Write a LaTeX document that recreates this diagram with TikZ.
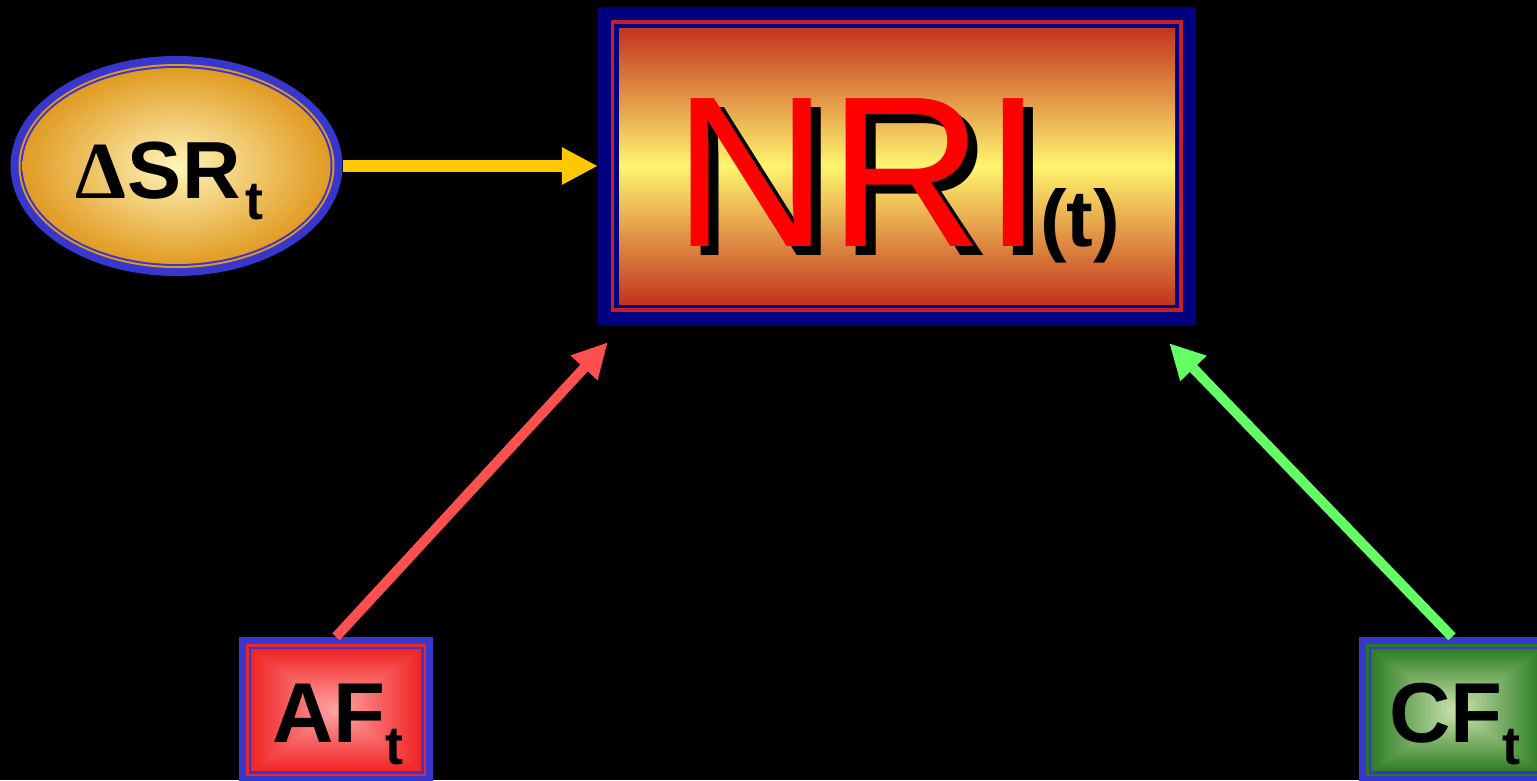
\documentclass[tikz,border=0pt]{standalone}
\usepackage{fontspec}
\setmainfont{Liberation Sans}
\newfontfamily\greekserif{Liberation Serif}
\usetikzlibrary{arrows.meta,shapes.geometric,calc}
\pgfdeclarelayer{back}
\pgfsetlayers{back,main}
\definecolor{bord}{RGB}{55,55,205}
\definecolor{navyb}{RGB}{0,0,128}
\definecolor{ylw}{RGB}{255,200,0}
\definecolor{redarr}{RGB}{255,80,80}
\definecolor{grnarr}{RGB}{100,255,100}
\definecolor{orgin}{RGB}{255,245,185}
\definecolor{orgout}{RGB}{225,155,35}
\definecolor{orgring}{RGB}{225,150,30}
\definecolor{nritop}{RGB}{195,52,30}
\definecolor{nrimid}{RGB}{255,245,110}
\definecolor{nriline}{RGB}{200,30,40}
\definecolor{afin}{RGB}{255,165,165}
\definecolor{afout}{RGB}{240,35,35}
\definecolor{afline}{RGB}{230,40,40}
\definecolor{cfin}{RGB}{205,228,175}
\definecolor{cfout}{RGB}{45,125,35}
\definecolor{cfline}{RGB}{40,120,40}
\newcommand\pyrfill[6]{%
  \coordinate (pc) at ($(#1,#2)!0.5!(#3,#4)$);
  \fill[#6] (#1,#2) rectangle (#3,#4);
  \shade[top color=#6,bottom color=#5] (#1,#2) -- (#3,#2) -- (pc) -- cycle;
  \shade[top color=#5,bottom color=#6] (#1,#4) -- (#3,#4) -- (pc) -- cycle;
  \shade[left color=#6,right color=#5] (#1,#2) -- (#1,#4) -- (pc) -- cycle;
  \shade[left color=#5,right color=#6] (#3,#2) -- (#3,#4) -- (pc) -- cycle;
}
\begin{document}
\begin{tikzpicture}[x=1pt,y=-1pt,
  shapebox/.style={rectangle,inner sep=0pt,minimum width=#1},
  lbl/.style={inner sep=0pt,anchor=base west,text=black},
  conn/.style={line width=#1},
  tipy/.style={-{Triangle[length=36pt,width=35pt]}},
  tipd/.style={-{Triangle[length=35pt,width=34pt]}}]
\useasboundingbox (0,0) rectangle (1537,780);
\begin{pgfonlayer}{back}
  \fill[black] (0,0) rectangle (1537,780);
  % ellipse
  \fill[bord] (176.5,166) ellipse [x radius=166pt, y radius=110pt];
  \fill[orgring] (176.5,166) ellipse [x radius=158pt, y radius=102pt];
  \fill[bord] (176.5,166) ellipse [x radius=156pt, y radius=100pt];
  \shade[inner color=orgin, outer color=orgout] (176.5,166) ellipse [x radius=154pt, y radius=98pt];
  % NRI box
  \fill[navyb] (598,7) rectangle (1196,325);
  \fill[nriline] (611,20) rectangle (1183,312);
  \fill[navyb] (614,24) rectangle (1179,308);
  \shade[top color=nritop, bottom color=nritop, middle color=nrimid] (619,28) rectangle (1175,304);
  % AF box
  \fill[bord] (239,637) rectangle (433,783);
  \fill[afline] (246,644) rectangle (426,776);
  \fill[bord] (248.5,646.5) rectangle (423.5,773.5);
  \pyrfill{251}{649}{421}{771}{afin}{afout}
  % CF box
  \fill[bord] (1359,637) rectangle (1553,783);
  \fill[cfline] (1366,644) rectangle (1546,776);
  \fill[bord] (1368.5,646.5) rectangle (1543.5,773.5);
  \pyrfill{1371}{649}{1541}{771}{cfin}{cfout}
\end{pgfonlayer}
% shape nodes
\node[ellipse,inner sep=0pt,minimum width=332pt,minimum height=220pt] (dsr) at (176.5,166) {};
\node[shapebox=598pt,minimum height=318pt] (nri) at (897,166) {};
\node[shapebox=194pt,minimum height=146pt] (af) at (336,710) {};
\node[shapebox=194pt,minimum height=146pt] (cf) at (1456,710) {};
% labels
\node[lbl] (dsrlbl) at (75,198) {\fontsize{81}{81}\selectfont{\greekserif\bfseries Δ}\kern2pt{\bfseries SR}\kern5pt\raisebox{-21pt}{\bfseries\fontsize{54}{54}\selectfont t}};
\node[lbl] (nrishadow) at (683,255) {\fontsize{215}{215}\selectfont NRI};
\node[lbl,text=red] (nrilbl) at (673,246) {\fontsize{215}{215}\selectfont NRI};
\node[lbl] (nrisub) at (1040,246) {\bfseries\fontsize{80}{80}\selectfont (t)};
\node[lbl] (aflbl) at (272,742) {\bfseries\fontsize{85}{85}\selectfont AF\raisebox{-22pt}{\fontsize{54}{54}\selectfont t}};
\node[lbl] (cflbl) at (1389,742) {\bfseries\fontsize{85}{85}\selectfont CF\raisebox{-22pt}{\fontsize{54}{54}\selectfont t}};
% connectors
\draw[conn=12pt, ylw, tipy] (dsr.east) -- (nri.west);
\draw[conn=10pt, redarr, tipd] (af.north) -- ([shift={(10,17)}]nri.south west);
\draw[conn=10pt, grnarr, tipd] ([xshift=-4pt]cf.north) -- ([shift={(-27,18)}]nri.south east);
\end{tikzpicture}
\end{document}
